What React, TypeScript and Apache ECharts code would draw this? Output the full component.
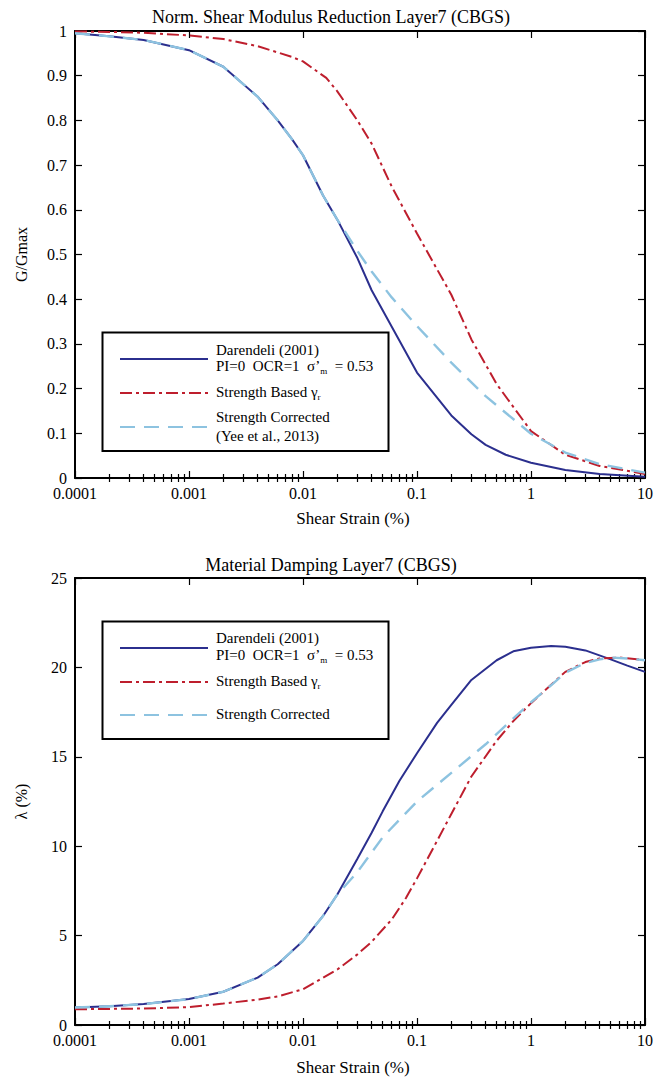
import React, { useEffect, useRef } from "react";
import * as echarts from "echarts";

// ---------- tick labels ----------
const xTickLabels = ["0.0001", "0.001", "0.01", "0.1", "1", "10"];
const gTickLabels = ["0", "0.1", "0.2", "0.3", "0.4", "0.5", "0.6", "0.7", "0.8", "0.9", "1"];
const dTickLabels = ["0", "5", "10", "15", "20", "25"];

// ---------- G/Gmax data ----------
const gStrainD = [0.0001, 0.0002, 0.0004, 0.001, 0.002, 0.004, 0.006, 0.008, 0.01, 0.015, 0.02, 0.03, 0.04, 0.1, 0.2, 0.3, 0.4, 0.6, 1, 2, 4, 10];
const gDarendeli = [0.995, 0.988, 0.98, 0.957, 0.92, 0.853, 0.8, 0.758, 0.722, 0.632, 0.578, 0.492, 0.42, 0.236, 0.14, 0.098, 0.074, 0.052, 0.034, 0.018, 0.009, 0.003];

const gStrainS = [0.0001, 0.0002, 0.0004, 0.001, 0.002, 0.004, 0.008, 0.01, 0.016, 0.02, 0.03, 0.04, 0.06, 0.1, 0.2, 0.3, 0.5, 1, 2, 4, 10];
const gStrength = [0.999, 0.998, 0.996, 0.99, 0.982, 0.966, 0.942, 0.932, 0.895, 0.865, 0.8, 0.748, 0.652, 0.547, 0.41, 0.31, 0.21, 0.105, 0.052, 0.027, 0.009];

const gStrainC = [0.0001, 0.0002, 0.0004, 0.001, 0.002, 0.004, 0.006, 0.008, 0.01, 0.015, 0.02, 0.03, 0.04, 0.06, 0.1, 0.2, 0.4, 1, 2, 4, 10];
const gCorrected = [0.995, 0.988, 0.98, 0.957, 0.92, 0.853, 0.8, 0.758, 0.722, 0.632, 0.578, 0.508, 0.462, 0.404, 0.34, 0.258, 0.183, 0.099, 0.057, 0.031, 0.012];

// ---------- Damping data ----------
const dStrainD = [0.0001, 0.0002, 0.0004, 0.001, 0.002, 0.004, 0.006, 0.01, 0.015, 0.02, 0.03, 0.04, 0.05, 0.07, 0.1, 0.15, 0.2, 0.3, 0.5, 0.7, 1, 1.5, 2, 3, 5, 7, 10];
const dDarendeli = [0.98, 1.05, 1.17, 1.45, 1.86, 2.65, 3.4, 4.7, 6.1, 7.3, 9.3, 10.75, 11.95, 13.65, 15.2, 16.9, 17.9, 19.3, 20.4, 20.9, 21.1, 21.2, 21.15, 20.95, 20.45, 20.1, 19.75];

const dStrainS = [0.0001, 0.0002, 0.0004, 0.001, 0.002, 0.004, 0.006, 0.01, 0.02, 0.03, 0.04, 0.06, 0.08, 0.1, 0.15, 0.2, 0.3, 0.5, 0.7, 1, 2, 3, 4, 6, 10];
const dStrength = [0.88, 0.9, 0.92, 1.0, 1.2, 1.42, 1.6, 2.0, 3.1, 3.95, 4.65, 5.9, 7.1, 8.2, 10.3, 11.8, 13.9, 15.9, 17.0, 18.0, 19.75, 20.3, 20.5, 20.55, 20.4];

const dStrainC = [0.0001, 0.0002, 0.0004, 0.001, 0.002, 0.004, 0.006, 0.01, 0.015, 0.02, 0.03, 0.05, 0.1, 0.2, 0.4, 0.7, 1, 1.5, 2, 3, 4, 5, 7, 10];
const dCorrected = [0.98, 1.05, 1.17, 1.45, 1.86, 2.65, 3.4, 4.7, 6.1, 7.3, 8.55, 10.5, 12.5, 14.1, 15.7, 17.15, 18.05, 19.0, 19.7, 20.25, 20.45, 20.55, 20.5, 20.4];

// ---------- styles ----------
const FF = '"Liberation Serif", "Times New Roman", serif';
const BLUE = "#2B2F8E";
const RED = "#BE1E2D";
const LBLUE = "#8DC3E0";
const DASHDOT = [12, 4, 3, 4];
const DASH = [15, 9];

const pairs = (xs: number[], ys: number[]) => xs.map((x, i) => [x, ys[i]]);

const minorTickPos: number[] = [];
for (let d = -4; d < 1; d++) {
  for (let k = 2; k <= 9; k++) minorTickPos.push(d + Math.log10(k));
}

const xLabelFmt = (v: number) => xTickLabels[Math.round(Math.log10(v)) + 4] ?? "";

function makeXAxes(gridIndex: number, nameGap: number) {
  const line = { show: true, onZero: false, lineStyle: { color: "#000", width: 2 } };
  const tickStyle = { color: "#000", width: 1.2 };
  return [
    {
      type: "log", logBase: 10, gridIndex, min: 0.0001, max: 10, splitNumber: 5, position: "bottom",
      axisLine: line,
      axisTick: { show: true, inside: true, length: 7, lineStyle: tickStyle },
      minorTick: { show: false },
      axisLabel: { show: true, margin: 7, fontSize: 16, fontFamily: FF, color: "#000", formatter: xLabelFmt },
      splitLine: { show: false },
      name: "Shear Strain (%)", nameLocation: "middle", nameGap,
      nameTextStyle: { fontSize: 17, fontFamily: FF, color: "#000", padding: [0, 14, 0, 0] },
    },
    {
      type: "value", gridIndex, min: -4, max: 1, position: "bottom",
      axisLine: { show: false },
      axisTick: { show: true, inside: true, length: 4, customValues: minorTickPos, lineStyle: tickStyle },
      axisLabel: { show: false },
      splitLine: { show: false },
    },
    {
      type: "log", logBase: 10, gridIndex, min: 0.0001, max: 10, splitNumber: 5, position: "top",
      axisLine: line,
      axisTick: { show: true, inside: true, length: 7, lineStyle: tickStyle },
      minorTick: { show: false },
      axisLabel: { show: false },
      splitLine: { show: false },
    },
    {
      type: "value", gridIndex, min: -4, max: 1, position: "top",
      axisLine: { show: false },
      axisTick: { show: true, inside: true, length: 4, customValues: minorTickPos, lineStyle: tickStyle },
      axisLabel: { show: false },
      splitLine: { show: false },
    },
  ];
}

function makeYAxes(gridIndex: number, max: number, interval: number, labels: string[], name: string) {
  const line = { show: true, onZero: false, lineStyle: { color: "#000", width: 2 } };
  const tickStyle = { color: "#000", width: 1.2 };
  return [
    {
      type: "value", gridIndex, min: 0, max, interval, position: "left",
      axisLine: line,
      axisTick: { show: true, inside: true, length: 7, lineStyle: tickStyle },
      axisLabel: {
        show: true, margin: 8, fontSize: 16, fontFamily: FF, color: "#000",
        formatter: (v: number) => labels[Math.round(v / interval)] ?? "",
      },
      splitLine: { show: false },
      name, nameLocation: "middle", nameGap: 46,
      nameTextStyle: { fontSize: 16, fontFamily: FF, color: "#000" },
    },
    {
      type: "value", gridIndex, min: 0, max, interval, position: "right",
      axisLine: line,
      axisTick: { show: true, inside: true, length: 7, lineStyle: tickStyle },
      axisLabel: { show: false },
      splitLine: { show: false },
    },
  ];
}

function lineSeries(xi: number, yi: number, data: number[][], color: string, type: any, width: number, z: number) {
  return {
    type: "line", xAxisIndex: xi, yAxisIndex: yi, data, symbol: "none", showSymbol: false,
    silent: true, z, lineStyle: { color, width, type },
  };
}

const richBase = {
  n: { fontSize: 15, fontFamily: FF, fill: "#000", color: "#000", lineHeight: 18 },
  s: { fontSize: 9, fontFamily: FF, fill: "#000", color: "#000", lineHeight: 10, verticalAlign: "bottom" },
};

function legendGraphic(top: number, height: number, rows: { text: string; y: number }[], lines: { y: number; color: string; dash: any }[]) {
  const els: any[] = [
    {
      type: "rect", z: 100,
      shape: { x: 102.5, y: top, width: 286, height },
      style: { fill: "#fff", stroke: "#000", lineWidth: 2 },
    },
  ];
  lines.forEach((l) => {
    els.push({
      type: "line", z: 101,
      shape: { x1: 120, y1: l.y, x2: 208, y2: l.y },
      style: { stroke: l.color, lineWidth: 2.2, lineDash: l.dash === "solid" ? null : l.dash },
    });
  });
  rows.forEach((r) => {
    els.push({
      type: "text", z: 101, x: 216, y: r.y,
      style: { text: r.text, rich: richBase, fontSize: 15, fontFamily: FF, fill: "#000", align: "left", verticalAlign: "middle" },
    });
  });
  return els;
}

export default function App() {
  const ref = useRef<HTMLDivElement>(null);

  useEffect(() => {
    document.body.style.margin = "0";
    if (!ref.current) return;
    const chart = echarts.init(ref.current, undefined, { renderer: "svg" });

    const xAxis = [...makeXAxes(0, 32), ...makeXAxes(1, 34)];
    const yAxis = [
      ...makeYAxes(0, 1, 0.1, gTickLabels, "G/Gmax"),
      ...makeYAxes(1, 25, 5, dTickLabels, "λ (%)"),
    ];

    const series = [
      lineSeries(0, 0, pairs(gStrainD, gDarendeli), BLUE, "solid", 2, 2),
      lineSeries(0, 0, pairs(gStrainS, gStrength), RED, DASHDOT, 2, 3),
      lineSeries(0, 0, pairs(gStrainC, gCorrected), LBLUE, DASH, 2.4, 4),
      lineSeries(4, 2, pairs(dStrainD, dDarendeli), BLUE, "solid", 2, 2),
      lineSeries(4, 2, pairs(dStrainS, dStrength), RED, DASHDOT, 2, 3),
      lineSeries(4, 2, pairs(dStrainC, dCorrected), LBLUE, DASH, 2.4, 4),
    ];

    const titleStyle = { fontSize: 18, fontFamily: FF, fill: "#000", align: "center", verticalAlign: "middle" };
    const graphic = [
      { type: "text", x: 331, y: 17, style: { ...titleStyle, text: "Norm. Shear Modulus Reduction Layer7 (CBGS)" } },
      { type: "text", x: 331, y: 565, style: { ...titleStyle, text: "Material Damping Layer7 (CBGS)" } },
      ...legendGraphic(
        332.5, 118.5,
        [
          { text: "{n|Darendeli (2001)}", y: 350 },
          { text: "{n|PI=0  OCR=1  σ’}{s|m}{n|  = 0.53}", y: 366 },
          { text: "{n|Strength Based γ}{s|r}", y: 392 },
          { text: "{n|Strength Corrected}", y: 417 },
          { text: "{n|(Yee et al., 2013)}", y: 436 },
        ],
        [
          { y: 359, color: BLUE, dash: "solid" },
          { y: 393, color: RED, dash: DASHDOT },
          { y: 427, color: LBLUE, dash: DASH },
        ]
      ),
      ...legendGraphic(
        621.5, 117.5,
        [
          { text: "{n|Darendeli (2001)}", y: 638 },
          { text: "{n|PI=0  OCR=1  σ’}{s|m}{n|  = 0.53}", y: 655 },
          { text: "{n|Strength Based γ}{s|r}", y: 681 },
          { text: "{n|Strength Corrected}", y: 714 },
        ],
        [
          { y: 648, color: BLUE, dash: "solid" },
          { y: 682, color: RED, dash: DASHDOT },
          { y: 715, color: LBLUE, dash: DASH },
        ]
      ),
    ];

    chart.setOption({
      animation: false,
      backgroundColor: "#fff",
      grid: [
        { left: 75, top: 31, width: 570, height: 447 },
        { left: 75, top: 578, width: 570, height: 447 },
      ],
      xAxis,
      yAxis,
      series,
      graphic,
    } as any);

    return () => chart.dispose();
  }, []);

  return <div ref={ref} style={{ width: 671, height: 1078 }} />;
}
